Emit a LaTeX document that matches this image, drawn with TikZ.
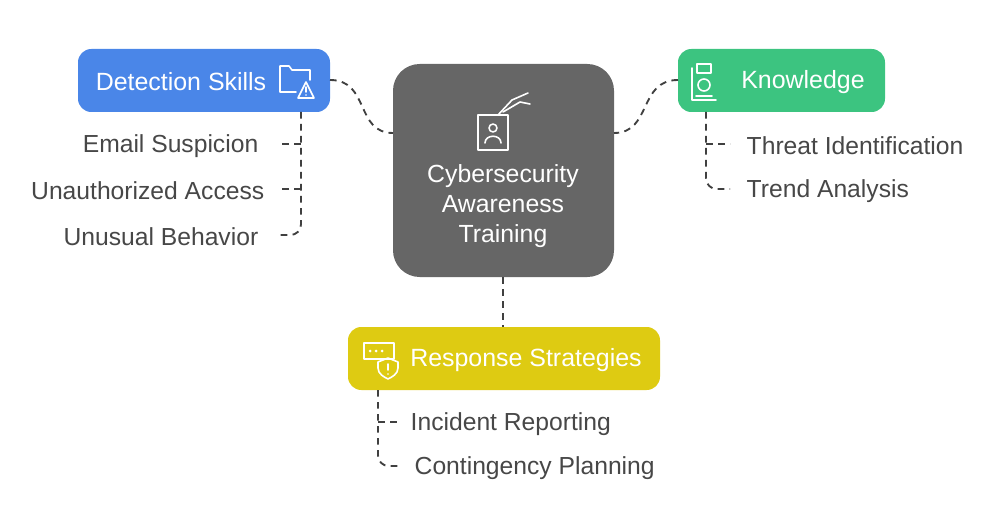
\documentclass[tikz,border=0pt]{standalone}
\usepackage{fontspec}
\setmainfont{Liberation Sans}
\begin{document}
\begin{tikzpicture}[x=0.75pt,y=-0.75pt,
  conn/.style={draw=black!75,line width=1.4pt,dash pattern=on 5pt off 4pt},
  lbl/.style={font=\fontsize{18.5}{22}\selectfont,text=black!72},
  head/.style={font=\fontsize{18.7}{22}\selectfont,text=white},
  ic/.style={draw=white,line width=1.2pt,line join=round,line cap=round}]
\useasboundingbox (0,0) rectangle (1008,517);
\definecolor{cblue}{HTML}{4A86E8}\definecolor{cgreen}{HTML}{3CC480}
\definecolor{cyel}{HTML}{DECB12}\definecolor{cgray}{HTML}{666666}
% boxes
\fill[cgray,rounded corners=20] (393,64) rectangle (614,277);
\node[font=\fontsize{18.6}{22.5}\selectfont,text=white,align=center] (c) at (503,206) {Cybersecurity\\Awareness\\Training};
\fill[cblue,rounded corners=10] (78,49) rectangle (330,112);
\node[head] (d) at (181,82) {Detection Skills};
\fill[cgreen,rounded corners=10] (678,49) rectangle (885,112);
\node[head] (k) at (803,82) {Knowledge};
\fill[cyel,rounded corners=10] (348,327) rectangle (660,390);
\node[head] (r) at (526,360) {Response Strategies};
% main connectors
\coordinate (dR) at (330,80); \coordinate (cL) at (393,133);
\coordinate (kL) at (678,80); \coordinate (cR) at (614,133);
\coordinate (cB) at (503,277); \coordinate (rT) at (503,327);
\draw[conn] (dR) .. controls (370,80) and (355,133) .. (cL);
\draw[conn] (kL) .. controls (638,80) and (652,133) .. (cR);
\draw[conn] (cB) -- (rT);
% detection children
\node[lbl,anchor=east] (d1) at (263,146) {Email Suspicion};
\node[lbl,anchor=east] (d2) at (269,191) {Unauthorized Access};
\node[lbl,anchor=east] (d3) at (263,237) {Unusual Behavior};
\draw[conn,rounded corners=8] (301,112) -- (301,235) -- (278,235);
\draw[conn] (301,144) -- (278,144);
\draw[conn] (301,189) -- (278,189);
% knowledge children
\node[lbl,anchor=west] (k1) at (742,146) {Threat Identification};
\node[lbl,anchor=west] (k2) at (742,191) {Trend Analysis};
\draw[conn,rounded corners=8] (706,112) -- (706,189) -- (730,189);
\draw[conn] (706,144) -- (730,144);
% response children
\node[lbl,anchor=west] (r1) at (406,424) {Incident Reporting};
\node[lbl,anchor=west] (r2) at (410,468) {Contingency Planning};
\draw[conn,rounded corners=8] (378,390) -- (378,466) -- (398,466);
\draw[conn] (378,422) -- (398,422);
% center icon (badge with hand)
\draw[ic] (478,115) rectangle (508,150);
\draw[ic] (493,128) circle (4);
\draw[ic] (485,143) .. controls (485,134) and (501,134) .. (501,143);
\draw[ic] (498,115) -- (512,100) -- (528,93);
\draw[ic] (503,112) -- (520,102) -- (530,104);
% folder warning icon
\draw[ic] (296,92) -- (280,92) -- (280,66) -- (289,66) -- (292,70) -- (310,70) -- (310,80);
\draw[ic] (306,82) -- (298,98) -- (314,98) -- cycle;
\draw[ic] (306,87) -- (306,92); \fill[white] (306,95) circle (0.9);
% knowledge icon
\draw[ic] (697,64) rectangle (711,73);
\draw[ic] (704,85) circle (6);
\draw[ic] (696,96) -- (712,96);
\draw[ic] (692,68) -- (692,100) -- (716,100);
% response icon
\draw[ic] (364,343) rectangle (394,359);
\foreach \xx in {370,376,382}{\fill[white] (\xx,351) circle (1.5);}
\draw[ic] (378,362) -- (388,358) -- (398,362) -- (398,368) .. controls (398,374) and (392,377) .. (388,379) .. controls (384,377) and (378,374) .. (378,368) -- cycle;
\draw[ic] (388,364) -- (388,370); \fill[white] (388,374) circle (0.9);
\end{tikzpicture}
\end{document}
